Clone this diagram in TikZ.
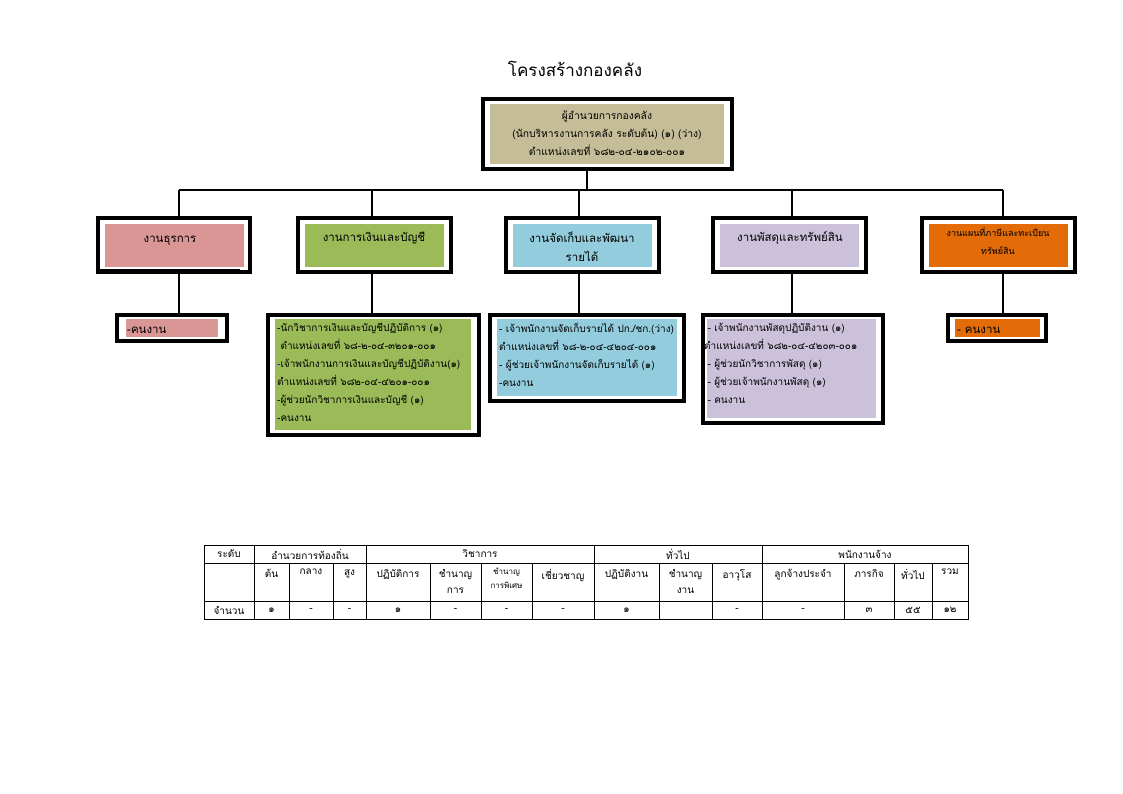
\documentclass[tikz,border=0pt]{standalone}
\usepackage{fontspec}
\setmainfont[Script=Thai]{Loma}
\usetikzlibrary{calc}
\definecolor{tanc}{HTML}{C4BD97}
\definecolor{pinkc}{HTML}{D99694}
\definecolor{greenc}{HTML}{9BBB59}
\definecolor{bluec}{HTML}{93CDDD}
\definecolor{purplec}{HTML}{CCC1DA}
\definecolor{orangec}{HTML}{E36C09}
\begin{document}
\begin{tikzpicture}[x=1pt,y=-1pt,
 frame/.style={draw=black, line width=4pt, fill=white, inner sep=0pt},
 fillbox/.style={inner sep=0pt},
 conn/.style={line width=1.3pt},
 hdr/.style={font=\fontsize{11.5}{19}\selectfont, align=center, inner sep=0pt},
 lst/.style={font=\fontsize{10}{18}\selectfont, align=left, inner sep=0pt, anchor=north west},
 tline/.style={line width=0.6pt},
 tbl/.style={font=\fontsize{10}{16}\selectfont, inner sep=0pt, align=center}
]
\useasboundingbox[fill=white] (0,0) rectangle (1123,794);

% title
\node[font=\fontsize{17}{18}\selectfont, inner sep=0pt] (title) at (575,69) {โครงสร้างกองคลัง};

% top box
\node[frame, minimum width=249pt, minimum height=70pt] (top) at (607.5,134) {};
\node[fillbox, fill=tanc, minimum width=234pt, minimum height=60pt] (topi) at (607,134) {};
\node[hdr, font=\fontsize{10.3}{18}\selectfont] (topt) at (607,133) {ผู้อำนวยการกองคลัง\\(นักบริหารงานการคลัง ระดับต้น) (๑) (ว่าง)\\ตำแหน่งเลขที่ ๖๘๒-๐๔-๒๑๐๒-๐๐๑};

% header frames
\node[frame, minimum width=152pt, minimum height=54pt] (h1) at (174,245) {};
\node[frame, minimum width=153pt, minimum height=54pt] (h2) at (374.5,245) {};
\node[frame, minimum width=153pt, minimum height=54pt] (h3) at (582.5,245) {};
\node[frame, minimum width=153pt, minimum height=54pt] (h4) at (789.5,245) {};
\node[frame, minimum width=153pt, minimum height=54pt] (h5) at (998.5,245) {};
\node[fillbox, fill=pinkc, minimum width=139pt, minimum height=43pt] (h1i) at (174.5,245.5) {};
\node[fillbox, fill=greenc, minimum width=139pt, minimum height=43pt] (h2i) at (374.5,245.5) {};
\node[fillbox, fill=bluec, minimum width=139pt, minimum height=43pt] (h3i) at (582.5,245.5) {};
\node[fillbox, fill=purplec, minimum width=139pt, minimum height=43pt] (h4i) at (789.5,245.5) {};
\node[fillbox, fill=orangec, minimum width=139pt, minimum height=43pt] (h5i) at (998.5,245.5) {};
\draw[line width=0.5pt] (98,269.6) -- (240,269.6);
\draw[line width=0.5pt] (98,271.2) -- (240,271.2);
\node[hdr] (h1t) at (170,241) {งานธุรการ};
\node[hdr] (h2t) at (374,238) {งานการเงินและบัญชี};
\node[hdr] (h3t) at (582,247) {งานจัดเก็บและพัฒนา\\รายได้};
\node[hdr] (h4t) at (790,238) {งานพัสดุและทรัพย์สิน};
\node[hdr, font=\fontsize{9}{18}\selectfont] (h5t) at (998,241) {งานแผนที่ภาษีและทะเบียน\\ทรัพย์สิน};

% sub frames
\node[frame, minimum width=110pt, minimum height=26pt] (s1) at (172,328) {};
\node[frame, minimum width=211pt, minimum height=120pt] (s2) at (373.5,375) {};
\node[frame, minimum width=194pt, minimum height=86pt] (s3) at (587,358) {};
\node[frame, minimum width=180pt, minimum height=108pt] (s4) at (793,369) {};
\node[frame, minimum width=98pt, minimum height=26pt] (s5) at (997,328) {};
\node[fillbox, fill=pinkc, minimum width=92pt, minimum height=18pt] (s1i) at (172,328) {};
\node[fillbox, fill=greenc, minimum width=196pt, minimum height=111pt] (s2i) at (373,374.5) {};
\node[fillbox, fill=bluec, minimum width=180pt, minimum height=77pt] (s3i) at (587,357.5) {};
\node[fillbox, fill=purplec, minimum width=169pt, minimum height=99pt] (s4i) at (791.5,368.5) {};
\node[fillbox, fill=orangec, minimum width=85pt, minimum height=18pt] (s5i) at (997.5,328) {};

\node[lst, font=\fontsize{11.5}{18}\selectfont, anchor=west] (s1t) at (127,330) {-คนงาน};
\node[lst, font=\fontsize{11.5}{18}\selectfont, anchor=west] (s5t) at (957,330) {- คนงาน};
\node[lst] (s2t) at (277,323) {-นักวิชาการเงินและบัญชีปฏิบัติการ (๑)\\
\ ตำแหน่งเลขที่ ๖๘-๒-๐๔-๓๒๐๑-๐๐๑\\
\textcolor{blue}{-}เจ้าพนักงานการเงินและบัญชีปฏิบัติงาน(๑)\\
ตำแหน่งเลขที่ ๖๘๒-๐๔-๔๒๐๑-๐๐๑\\
-ผู้ช่วยนักวิชาการเงินและบัญชี (๑)\\
-คนงาน};
\node[lst] (s3t) at (499,323) {- เจ้าพนักงานจัดเก็บรายได้ ปก./ชก.(ว่าง)\\
ตำแหน่งเลขที่ ๖๘-๒-๐๔-๔๒๐๔-๐๐๑\\
- ผู้ช่วยเจ้าพนักงานจัดเก็บรายได้ (๑)\\
-คนงาน};
\node[lst] (s4t) at (704,323) {\ - เจ้าพนักงานพัสดุปฏิบัติงาน (๑)\\
ตำแหน่งเลขที่ ๖๘๒-๐๔-๔๒๐๓-๐๐๑\\
\ - ผู้ช่วยนักวิชาการพัสดุ (๑)\\
\ - ผู้ช่วยเจ้าพนักงานพัสดุ (๑)\\
\ - คนงาน};

% connectors
\coordinate (bus) at (587,190);
\coordinate (b1) at (179,190);
\coordinate (b2) at (372,190);
\coordinate (b3) at (579,190);
\coordinate (b4) at (792,190);
\coordinate (b5) at (1003,190);
\draw[conn] (top.south -| bus) -- (bus);
\draw[conn] (b1) -- (b5);
\foreach \i in {1,...,5}{
  \draw[conn] (b\i) -- (b\i |- h\i.north);
  \draw[conn] (h\i.south -| b\i) -- (s\i.north -| b\i);
}

% table
\draw[tline] (204,545) rectangle (968,619);
\draw[tline] (204,563) -- (968,563);
\draw[tline] (204,601) -- (968,601);
\foreach \x in {254,366,594,762}{\draw[tline] (\x,545) -- (\x,619);}
\foreach \x in {289,333,430,481,532,659,712,844,894,932}{\draw[tline] (\x,563) -- (\x,619);}

\node[tbl] (r1a) at (229,554) {ระดับ};
\node[tbl] (r1b) at (310,554) {อำนวยการท้องถิ่น};
\node[tbl] (r1c) at (480,554) {วิชาการ};
\node[tbl] (r1d) at (678,554) {ทั่วไป};
\node[tbl] (r1e) at (865,554) {พนักงานจ้าง};

\foreach \n/\x/\t in {a/271.5/ต้น, b/311/กลาง, c/349.5/สูง, d/398/ปฏิบัติการ, f/563/เชี่ยวชาญ, g/626.5/ปฏิบัติงาน, i/737/อาวุโส, j/803/ลูกจ้างประจำ, k/869/ภารกิจ, l/913/ทั่วไป, m/950/รวม}{
  \node[tbl, anchor=north] (r2\n) at (\x,569) {\t};
}
\node[tbl, anchor=north] (r2e) at (455.5,569) {ชำนาญ\\การ};
\node[tbl, anchor=north, font=\fontsize{8}{14}\selectfont] (r2e2) at (506.5,568) {ชำนาญ\\การพิเศษ};
\node[tbl, anchor=north] (r2h) at (685.5,569) {ชำนาญ\\งาน};

\foreach \n/\x/\t in {a/229/จำนวน, b/271.5/๑, c/311/-, d/349.5/-, e/398/๑, f/455.5/-, g/506.5/-, h/563/-, i/626.5/๑, j/737/-, k/803/-, l/869/๓, m/913/๕๕, n/950/๑๒}{
  \node[tbl] (r3\n) at (\x,610) {\t};
}
\end{tikzpicture}
\end{document}
